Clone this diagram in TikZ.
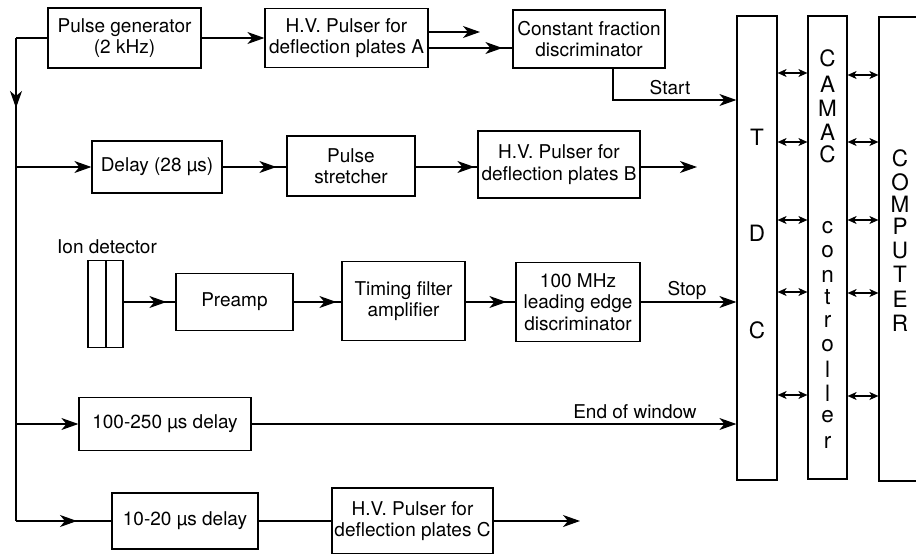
\documentclass[tikz,border=0pt]{standalone}
\usepackage{fontspec}
\setmainfont{TeX Gyre Heros}
\usetikzlibrary{arrows.meta,decorations.markings}
\begin{document}
\begin{tikzpicture}[x=1pt,y=-1pt,
  hd/.tip={Stealth[length=17pt,width=12pt,inset=5pt]},
  sm/.tip={Stealth[length=9pt,width=8pt,inset=2.5pt]},
  wire/.style={line width=1.2pt},
  arr/.style={wire,-{hd}},
  dbl/.style={wire,{sm}-{sm}},
  midarr/.style={wire,postaction={decorate},
    decoration={markings,mark=at position #1 with {\arrow{hd}}}},
  box/.style={draw,line width=1.2pt,align=center,inner sep=0pt,
    font=\fontsize{19}{21.5}\selectfont},
  lbl/.style={inner sep=0pt,font=\fontsize{19}{21.5}\selectfont},
  vl/.style={inner sep=0pt,font=\fontsize{22.5}{22.5}\selectfont}]
\clip (0,0) rectangle (916,554);
\useasboundingbox (0,0) rectangle (916,554);

% top row
\node[box,minimum width=153pt,minimum height=60pt] (pg) at (124.5,38) {Pulse generator\\(2 kHz)};
\node[box,minimum width=163pt,minimum height=59pt] (hva) at (346.5,38) {H.V. Pulser for\\deflection plates A};
\node[box,minimum width=152pt,minimum height=58pt] (cfd) at (589,39) {Constant fraction\\discriminator};

% right column
\node[draw,line width=1.2pt,minimum width=40pt,minimum height=464pt,inner sep=0pt] (tdc) at (757,248) {};
\node[draw,line width=1.2pt,minimum width=39pt,minimum height=463pt,inner sep=0pt] (camac) at (827.5,247.5) {};
\node[draw,line width=1.2pt,minimum width=44pt,minimum height=464pt,inner sep=0pt] (comp) at (901,249) {};

\node[vl] (tdcT) at (757,137) {T};
\node[vl] (tdcD) at (757,233) {D};
\node[vl] (tdcC) at (757,330) {C};

\foreach \ch/\yy [count=\i] in {C/58,A/84,M/108,A/132,C/154,c/228,o/252,n/276,t/297,r/321,o/346,l/369,l/393,e/417,r/442}
  \node[vl] (cam\i) at (827.5,\yy) {\ch};
\foreach \ch/\yy [count=\i] in {C/158,O/182,M/204,P/226,U/250,T/274,E/299,R/323}
  \node[vl] (cmp\i) at (900,\yy) {\ch};

\foreach \yy [count=\i] in {73,142,220,292,395}{
  \coordinate (ra\i) at (0,\yy);
  \draw[dbl] (tdc.east |- ra\i) -- (camac.west |- ra\i);
}
\foreach \yy [count=\i] in {75,142,220,293,396}{
  \coordinate (rb\i) at (0,\yy);
  \draw[dbl] (camac.east |- rb\i) -- (comp.west |- rb\i);
}

% row 2
\node[box,minimum width=130pt,minimum height=52pt] (delay) at (157,167) {Delay (28 µs)};
\node[box,minimum width=128pt,minimum height=60pt] (stretch) at (351,166) {Pulse\\stretcher};
\node[box,minimum width=162pt,minimum height=67pt] (hvb) at (559,164.5) {H.V. Pulser for\\deflection plates B};

% row 3
\node[lbl] (ionlbl) at (107,247) {Ion detector};
\node[draw,line width=1.2pt,minimum width=18pt,minimum height=87pt,inner sep=0pt] (det1) at (97,304) {};
\node[draw,line width=1.2pt,minimum width=17pt,minimum height=87pt,inner sep=0pt] (det2) at (114.5,304) {};
\node[box,minimum width=117pt,minimum height=57pt] (preamp) at (234.5,302) {Preamp};
\node[box,minimum width=123pt,minimum height=79pt] (tfa) at (403.5,301) {Timing filter\\amplifier};
\node[box,minimum width=124pt,minimum height=79pt] (led) at (578,302) {100 MHz\\leading edge\\discriminator};

% row 4
\node[box,minimum width=172pt,minimum height=53pt] (d100) at (165,424) {100-250 µs delay};

% row 5
\node[box,minimum width=146pt,minimum height=56pt] (d1020) at (185,521) {10-20 µs delay};
\node[box,minimum width=161pt,minimum height=66pt] (hvc) at (412.5,521) {H.V. Pulser for\\deflection plates C};

% bus coordinates
\coordinate (btop) at (16,38);
\coordinate (b2) at (16,167);
\coordinate (b4) at (16,424);
\coordinate (b5) at (16,521);
\coordinate (hvaout) at (480,32);
\coordinate (st) at (737,100);
\coordinate (hvbout) at (697,167);
\coordinate (hvcout) at (580,521);

% connectors
\draw[wire] (pg.west) -- (btop);
\draw[midarr=70pt] (btop) -- (b2);
\draw[wire] (b2) -- (b5);
\draw[arr] (pg.east) -- (hva.west);
\draw[arr] (hva.east |- hvaout) -- (hvaout);
\draw[midarr=-10pt] ([yshift=-10pt]hva.east) -- ([yshift=-10pt]hva.east -| cfd.west);
\draw[arr] ([xshift=24pt]cfd.south) |- (tdc.west |- st);
\node[lbl] (startlbl) at (670,88) {Start};

\draw[arr] (b2) -- (delay.west);
\draw[midarr=-10pt] (delay.east) -- (delay.east -| stretch.west);
\draw[midarr=-3pt] (stretch.east |- b2) -- (hvb.west |- b2);
\draw[arr] (hvb.east |- hvbout) -- (hvbout);

\draw[midarr=-9pt] (det2.east |- preamp.west) -- (preamp.west);
\draw[midarr=-5pt] (preamp.east) -- (preamp.east -| tfa.west);
\draw[midarr=-9pt] (tfa.east |- led.west) -- (led.west);
\draw[arr] (led.east) -- (led.east -| tdc.west);
\node[lbl] (stoplbl) at (687,290) {Stop};

\draw[arr] (b4) -- (d100.west);
\draw[arr] (d100.east) -- (d100.east -| tdc.west);
\node[lbl] (eowlbl) at (635,412) {End of window};

\draw[midarr=61pt] (b5) -- (d1020.west);
\draw[wire] (d1020.east) -- (hvc.west);
\draw[arr] (hvc.east) -- (hvcout);
\end{tikzpicture}
\end{document}
